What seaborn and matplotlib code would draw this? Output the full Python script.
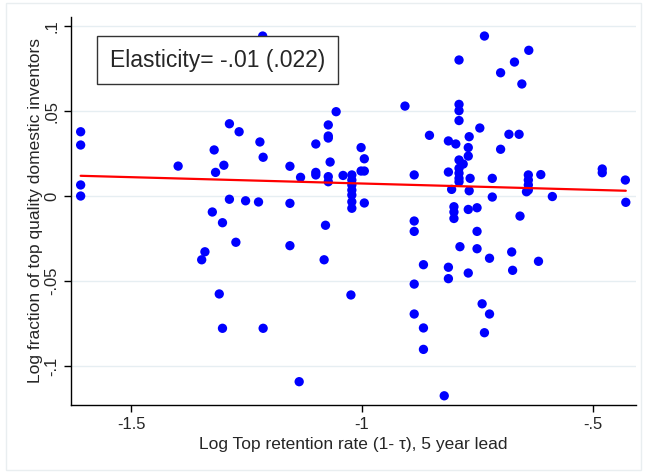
import numpy as np
import pandas as pd
import seaborn as sns
from matplotlib import pyplot as plt
from matplotlib.patches import Rectangle

# Log top retention rate (x) and log fraction of top quality domestic inventors (y)
retention = [
    -1.609, -1.609, -1.609, -1.609, -1.398, -1.347, -1.340, -1.324, -1.320, -1.317,
    -1.309, -1.302, -1.302, -1.299, -1.287, -1.287, -1.273, -1.266, -1.252, -1.224,
    -1.221, -1.215, -1.214, -1.214, -1.156, -1.156, -1.156, -1.136, -1.133, -1.100,
    -1.100, -1.100, -1.082, -1.079, -1.073, -1.073, -1.073, -1.069, -1.073, -1.073,
    -1.056, -1.041, -1.024, -1.022, -1.022, -1.022, -1.022, -1.022, -1.022, -1.022,
    -1.002, -1.002, -0.995, -0.995, -0.995, -0.907, -0.887, -0.887, -0.887, -0.887,
    -0.887, -0.867, -0.867, -0.867, -0.854, -0.822, -0.813, -0.813, -0.813, -0.813,
    -0.806, -0.801, -0.801, -0.801, -0.797, -0.790, -0.790, -0.790, -0.790, -0.790,
    -0.790, -0.790, -0.790, -0.790, -0.788, -0.781, -0.770, -0.770, -0.770, -0.770,
    -0.768, -0.768, -0.766, -0.751, -0.751, -0.751, -0.745, -0.740, -0.735, -0.735,
    -0.724, -0.724, -0.718, -0.718, -0.700, -0.700, -0.682, -0.676, -0.674, -0.670,
    -0.660, -0.658, -0.654, -0.640, -0.640, -0.640, -0.640, -0.644, -0.639, -0.618,
    -0.613, -0.588, -0.480, -0.480, -0.430, -0.429,
]
inventors = [
    0.0378, 0.0300, 0.0065, 0.0000, 0.0176, -0.0375, -0.0328, -0.0094, 0.0271, 0.0139,
    -0.0576, -0.0157, -0.0778, 0.0181, 0.0425, -0.0019, -0.0272, 0.0378, -0.0028, -0.0035,
    0.0318, 0.0941, 0.0228, -0.0778, 0.0175, -0.0043, -0.0292, -0.1092, 0.0110, 0.0306,
    0.0139, 0.0124, -0.0375, -0.0172, 0.0418, 0.0353, 0.0341, 0.0200, 0.0114, 0.0084,
    0.0496, 0.0121, -0.0582, 0.0124, 0.0094, 0.0065, 0.0035, 0.0006, -0.0034, -0.0072,
    0.0285, 0.0147, 0.0219, 0.0147, -0.0041, 0.0529, 0.0124, -0.0147, -0.0208, -0.0518,
    -0.0694, -0.0404, -0.0776, -0.0902, 0.0357, -0.1175, 0.0324, 0.0141, -0.0419, -0.0486,
    0.0039, -0.0063, -0.0094, -0.0132, 0.0306, 0.0539, 0.0502, 0.0444, 0.0800, 0.0212,
    0.0163, 0.0134, 0.0104, 0.0084, -0.0298, 0.0188, 0.0285, 0.0235, -0.0079, -0.0453,
    0.0349, 0.0031, 0.0104, -0.0069, -0.0208, -0.0310, 0.0400, -0.0634, 0.0941, -0.0804,
    -0.0366, -0.0694, 0.0104, -0.0006, 0.0725, 0.0275, 0.0363, -0.0329, -0.0437, 0.0788,
    0.0363, -0.0118, 0.0659, 0.0124, 0.0094, 0.0065, 0.0035, 0.0025, 0.0857, -0.0384,
    0.0126, -0.0003, 0.0159, 0.0137, 0.0094, -0.0037,
]
# fitted line (as printed in the source figure)
fit_retention = [-1.609, -0.429]
fit_inventors = [0.0119, 0.0031]

x_ticks = [-1.5, -1.0, -0.5]
x_tick_labels = ['-1.5', '-1', '-.5']
y_ticks = [-0.1, -0.05, 0.0, 0.05, 0.1]
y_tick_labels = ['-.1', '-.05', '0', '.05', '.1']
note = 'Elasticity= -.01 (.022)'

df = pd.DataFrame({'retention': retention, 'inventors': inventors})
fit = pd.DataFrame({'retention': fit_retention, 'inventors': fit_inventors})

sns.set_style('white')
plt.rcParams['font.family'] = ['Liberation Sans', 'DejaVu Sans']

fig = plt.figure(figsize=(6.45, 4.72), dpi=100)
ax = fig.add_axes([0.110, 0.142, 0.876, 0.822])

sns.scatterplot(data=df, x='retention', y='inventors', color='#0000ff', s=45,
                edgecolor='none', ax=ax, zorder=3)
sns.lineplot(data=fit, x='retention', y='inventors', color='#ff0000',
             linewidth=1.6, ax=ax, zorder=4)

ax.set_xlim(-1.63, -0.407)
ax.set_ylim(-0.1229, 0.1053)
ax.set_xticks(x_ticks, x_tick_labels, fontsize=12)
ax.set_yticks(y_ticks, y_tick_labels, fontsize=12, rotation=90, va='center')
ax.tick_params(axis='both', direction='out', length=5, width=1, color='black',
               bottom=True, left=True)
ax.grid(axis='y', color='#e6eef2', linewidth=1.0)
ax.set_axisbelow(True)
sns.despine(ax=ax)
for side in ('left', 'bottom'):
    ax.spines[side].set_color('black')
    ax.spines[side].set_linewidth(1.0)

ax.set_xlabel('Log Top retention rate (1- τ), 5 year lead', fontsize=12.5, labelpad=4)
ax.set_ylabel('Log fraction of top quality domestic inventors', fontsize=12.5, labelpad=1)

ax.text(0.259, 0.889, note, transform=ax.transAxes, ha='center', va='center',
        fontsize=16.5, bbox=dict(boxstyle='square,pad=0.55', facecolor='white',
                                 edgecolor='#333333', linewidth=1.0))

fig.patches.append(Rectangle((0.009, 0.004), 0.985, 0.99, transform=fig.transFigure,
                             fill=False, edgecolor='#e9eef0', linewidth=1.0))

fig.savefig('out.png', dpi=100)
